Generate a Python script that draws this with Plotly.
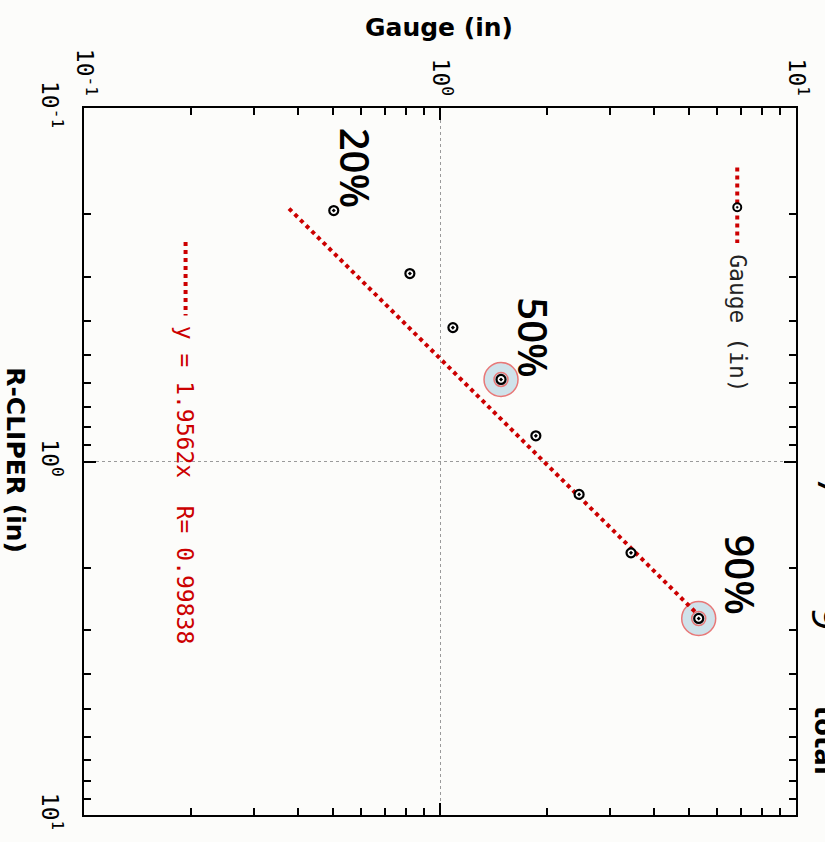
import plotly.graph_objects as go

# ---------------- data ----------------
gauge_in = [0.503, 0.823, 1.087, 1.484, 1.859, 2.459, 3.44, 5.33]
rcliper_in = [0.195, 0.294, 0.418, 0.586, 0.846, 1.239, 1.813, 2.78]
highlight_idx = [3, 7]

fit_rcliper = [0.1925, 2.68]
fit_gauge = [0.3766, 5.243]
fit_label = "y = 1.9562x  R= 0.99838"

pct_labels = ["20%", "50%", "90%"]

major_vals = [0.1, 1, 10]
major_text = ["10<sup>-1</sup>", "10<sup>0</sup>", "10<sup>1</sup>"]
minor_vals = [0.2, 0.3, 0.4, 0.5, 0.6, 0.7, 0.8, 0.9, 2, 3, 4, 5, 6, 7, 8, 9]

# ---------------- layout helpers ----------------
W, H = 825, 842
L, R, T, B = 84, 799, 108, 820


def px(x):
    return (x - L) / (R - L)


def py(y):
    return 1 - (y - T) / (B - T)


RED = "#cc0000"
MONO = "DejaVu Sans Mono"

fig = go.Figure()

# highlight circles
fig.add_trace(go.Scatter(
    x=[gauge_in[i] for i in highlight_idx], y=[rcliper_in[i] for i in highlight_idx],
    mode="markers", hoverinfo="skip", showlegend=False,
    marker=dict(symbol="circle", size=34, color="#cfe2ea", line=dict(color="#e87878", width=1.5)),
))
fig.add_trace(go.Scatter(
    x=[gauge_in[i] for i in highlight_idx], y=[rcliper_in[i] for i in highlight_idx],
    mode="markers", hoverinfo="skip", showlegend=False,
    marker=dict(symbol="circle", size=14, color="#cfe2ea", line=dict(color="#e87878", width=1.5)),
))

# fit line
fig.add_trace(go.Scatter(
    x=fit_gauge, y=fit_rcliper, mode="lines", showlegend=False,
    line=dict(color=RED, width=4, dash="dot"),
))

# points
fig.add_trace(go.Scatter(
    x=gauge_in, y=rcliper_in, mode="markers", showlegend=False,
    marker=dict(symbol="circle-dot", size=9, color="white", line=dict(color="black", width=2.2)),
))

axis_common = dict(
    type="log",
    tickmode="array",
    tickvals=major_vals,
    ticktext=major_text,
    ticks="inside",
    ticklen=12,
    tickwidth=1.5,
    tickcolor="black",
    tickangle=90,
    tickfont=dict(family=MONO, size=23, color="black"),
    showline=True,
    linewidth=2,
    linecolor="black",
    mirror="ticks",
    showgrid=True,
    gridcolor="#9a9a9a",
    gridwidth=1,
    griddash="dot",
    zeroline=False,
    minor=dict(tickvals=minor_vals, ticks="inside", ticklen=7, tickwidth=1.5,
               tickcolor="black", showgrid=False),
)

fig.update_layout(
    width=W, height=H,
    margin=dict(l=L, r=W - R, t=T, b=H - B, pad=0),
    paper_bgcolor="#fcfcfa",
    plot_bgcolor="#fcfcfa",
    showlegend=False,
    xaxis=dict(axis_common, range=[-1, 1], side="top", ticklabelstandoff=2),
    yaxis=dict(axis_common, range=[1, -1], ticklabelstandoff=12),
)

ann = []
# axis titles
ann.append(dict(text="<b>Gauge (in)</b>", x=px(440), y=py(27), xref="paper", yref="paper",
                showarrow=False, font=dict(family="DejaVu Sans", size=25, color="black"),
                xanchor="center", yanchor="middle"))
ann.append(dict(text="<b>R-CLIPER (in)</b>", x=px(15), y=py(463), xref="paper", yref="paper",
                showarrow=False, textangle=90, font=dict(family="DejaVu Sans", size=25, color="black"),
                xanchor="center", yanchor="middle"))

# percentage labels
for txt, (cx, cy) in zip(pct_labels, [(357, 168), (536, 339), (743, 578)]):
    ann.append(dict(text=txt, x=px(cx), y=py(cy), xref="paper", yref="paper", showarrow=False,
                    textangle=90, font=dict(family="Open Sans", size=40, color="black", weight=600),
                    xanchor="center", yanchor="middle"))

# legend texts
ann.append(dict(text="Gauge (in)", x=px(740), y=py(325), xref="paper", yref="paper", showarrow=False,
                textangle=90, font=dict(family=MONO, size=23, color="#222"),
                xanchor="center", yanchor="middle"))
ann.append(dict(text=fit_label.replace(" ", "&nbsp;"), x=px(185), y=py(488), xref="paper", yref="paper",
                showarrow=False, textangle=90, font=dict(family=MONO, size=23, color=RED),
                xanchor="center", yanchor="middle"))

# cut-off text fragments at the right edge
ann.append(dict(text="<b>total</b>", x=px(828), y=py(745), xref="paper", yref="paper", showarrow=False,
                textangle=90, font=dict(family="DejaVu Sans", size=26, color="black"),
                xanchor="center", yanchor="middle"))
ann.append(dict(text="9", x=px(832), y=py(622), xref="paper", yref="paper", showarrow=False,
                textangle=90, font=dict(family="Open Sans", size=42, color="black"),
                xanchor="center", yanchor="middle"))
ann.append(dict(text="7", x=px(838), y=py(490), xref="paper", yref="paper", showarrow=False,
                textangle=90, font=dict(family="Open Sans", size=42, color="black"),
                xanchor="center", yanchor="middle"))

fig.update_layout(annotations=ann)

# legend sample lines / marker
shapes = [
    dict(type="line", xref="paper", yref="paper", x0=px(740), x1=px(740), y0=py(168), y1=py(244),
         line=dict(color=RED, width=4, dash="dot")),
    dict(type="circle", xref="paper", yref="paper", xsizemode="pixel", ysizemode="pixel",
         xanchor=px(740), yanchor=py(208), x0=-4, x1=4, y0=-4, y1=4,
         fillcolor="white", line=dict(color="black", width=2)),
    dict(type="circle", xref="paper", yref="paper", xsizemode="pixel", ysizemode="pixel",
         xanchor=px(740), yanchor=py(208), x0=-1, x1=1, y0=-1, y1=1,
         fillcolor="black", line=dict(color="black", width=0.5)),
    dict(type="line", xref="paper", yref="paper", x0=px(186), x1=px(186), y0=py(243), y1=py(317),
         line=dict(color=RED, width=4, dash="dot")),
]
fig.update_layout(shapes=shapes)

fig.write_html("out.html")
